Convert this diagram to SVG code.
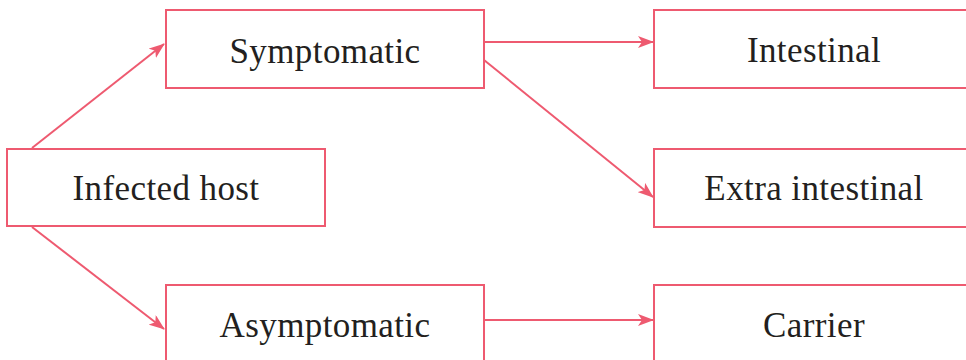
<svg xmlns="http://www.w3.org/2000/svg" width="966" height="360" viewBox="0 0 966 360">
  <style>
    .box { fill: #ffffff; stroke: #ee5a70; stroke-width: 2; }
    .lbl { font-family: "Liberation Serif", "DejaVu Serif", serif; font-size: 35px; letter-spacing: 0.4px; fill: #231f20; text-anchor: middle; }
    .edge { stroke: #ee5a70; stroke-width: 2; fill: none; marker-end: url(#arrow); }
  </style>
  <defs>
    <marker id="arrow" markerWidth="16" markerHeight="12" refX="15" refY="6" orient="auto" markerUnits="userSpaceOnUse">
      <path d="M0,0 L16,6 L0,12 L4,6 Z" fill="#ee5a70"/>
    </marker>
  </defs>
  <rect width="966" height="360" fill="#ffffff"/>

  <g id="connectors">
    <line class="edge" x1="32" y1="148" x2="164" y2="44"/>
    <line class="edge" x1="32" y1="227" x2="164" y2="329"/>
    <line class="edge" x1="484" y1="42" x2="653" y2="42"/>
    <line class="edge" x1="484" y1="60" x2="653" y2="197"/>
    <line class="edge" x1="484" y1="320" x2="653" y2="320"/>
  </g>

  <g id="infected-host">
    <rect class="box" x="7" y="149" width="318" height="77"/>
    <text class="lbl" x="166" y="200">Infected host</text>
  </g>
  <g id="symptomatic">
    <rect class="box" x="166" y="10" width="318" height="78"/>
    <text class="lbl" x="325" y="63">Symptomatic</text>
  </g>
  <g id="asymptomatic">
    <rect class="box" x="166" y="285" width="318" height="90"/>
    <text class="lbl" x="325" y="337">Asymptomatic</text>
  </g>
  <g id="intestinal">
    <rect class="box" x="654" y="10" width="320" height="78"/>
    <text class="lbl" x="814" y="62">Intestinal</text>
  </g>
  <g id="extra-intestinal">
    <rect class="box" x="654" y="149" width="320" height="78"/>
    <text class="lbl" x="814" y="200">Extra intestinal</text>
  </g>
  <g id="carrier">
    <rect class="box" x="654" y="285" width="320" height="90"/>
    <text class="lbl" x="814" y="337">Carrier</text>
  </g>
</svg>
